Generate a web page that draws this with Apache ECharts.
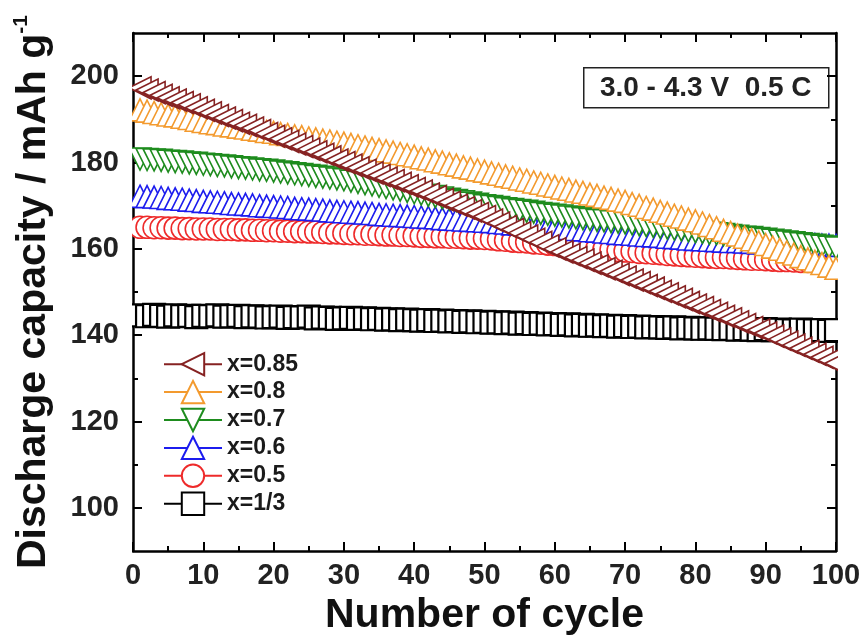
<!DOCTYPE html>
<html>
<head>
<meta charset="utf-8">
<script src="https://cdn.jsdelivr.net/npm/echarts@6/dist/echarts.min.js"></script>
<style>
  html, body { margin: 0; padding: 0; background: #fff; }
  #chart { width: 868px; height: 641px; }
</style>
</head>
<body>
<div id="chart"></div>
<script>
// cycle numbers
var cycles = [1,2,3,4,5,6,7,8,9,10,11,12,13,14,15,16,17,18,19,20,
  21,22,23,24,25,26,27,28,29,30,31,32,33,34,35,36,37,38,39,40,
  41,42,43,44,45,46,47,48,49,50,51,52,53,54,55,56,57,58,59,60,
  61,62,63,64,65,66,67,68,69,70,71,72,73,74,75,76,77,78,79,80,
  81,82,83,84,85,86,87,88,89,90,91,92,93,94,95,96,97,98,99,100];

// discharge capacity (mAh/g)
var cap085 = [197.3,196.8,196.2,195.6,195.0,194.5,193.9,193.4,192.7,192.1,
  191.5,190.9,190.3,189.7,189.1,188.6,188.0,187.4,186.7,186.1,
  185.5,184.9,184.3,183.7,183.1,182.5,181.9,181.3,180.6,180.0,
  179.4,178.8,178.2,177.6,177.0,176.4,175.8,175.2,174.6,174.0,
  173.4,172.7,172.1,171.4,170.8,170.1,169.5,168.8,168.2,167.5,
  166.7,166.0,165.2,164.5,163.7,163.0,162.2,161.5,160.7,160.0,
  159.3,158.7,158.0,157.4,156.7,156.1,155.4,154.8,154.1,153.5,
  152.8,152.2,151.5,150.9,150.2,149.6,148.9,148.3,147.6,147.0,
  146.4,145.7,145.1,144.4,143.8,143.1,142.5,141.8,141.2,140.5,
  139.8,139.1,138.4,137.7,137.0,136.3,135.6,134.9,134.2,133.5];
var cap08 = [192.2,191.9,191.6,191.3,191.0,190.8,190.5,190.2,189.8,189.5,
  189.2,189.0,188.7,188.5,188.2,188.0,187.7,187.5,187.2,187.0,
  186.7,186.5,186.2,186.0,185.7,185.5,185.2,185.0,184.7,184.5,
  184.2,183.9,183.6,183.3,183.0,182.7,182.4,182.1,181.8,181.5,
  181.1,180.8,180.4,180.1,179.7,179.4,179.0,178.7,178.3,178.0,
  177.6,177.3,176.9,176.6,176.2,175.9,175.5,175.2,174.8,174.5,
  174.1,173.8,173.4,173.1,172.7,172.4,172.0,171.7,171.3,171.0,
  170.5,170.1,169.6,169.2,168.7,168.3,167.8,167.4,166.9,166.5,
  166.0,165.4,164.9,164.3,163.8,163.2,162.7,162.1,161.6,161.0,
  160.4,159.9,159.3,158.8,158.2,157.7,157.1,156.6,156.0,155.5];
var cap07 = [180.8,180.7,180.6,180.5,180.3,180.2,180.1,179.9,179.8,179.6,
  179.5,179.3,179.2,179.0,178.8,178.7,178.5,178.3,178.2,178.0,
  177.8,177.6,177.4,177.2,177.0,176.8,176.6,176.4,176.2,176.0,
  175.7,175.4,175.1,174.8,174.5,174.2,173.9,173.6,173.3,173.0,
  172.7,172.4,172.1,171.8,171.5,171.2,170.9,170.6,170.3,170.0,
  169.8,169.6,169.3,169.1,168.9,168.7,168.5,168.2,168.0,167.8,
  167.6,167.4,167.2,167.0,166.8,166.6,166.5,166.3,166.2,166.0,
  165.8,165.6,165.4,165.2,165.0,164.8,164.6,164.4,164.2,164.0,
  163.8,163.6,163.5,163.3,163.1,162.9,162.7,162.6,162.4,162.2,
  162.0,161.8,161.6,161.4,161.2,161.0,160.8,160.6,160.4,160.2];
var cap06 = [172.2,172.1,172.0,171.9,171.7,171.6,171.5,171.3,171.2,171.0,
  170.9,170.8,170.7,170.5,170.4,170.3,170.2,170.0,169.9,169.8,
  169.7,169.6,169.4,169.3,169.2,169.1,169.0,168.8,168.7,168.6,
  168.5,168.4,168.3,168.2,168.0,167.9,167.8,167.7,167.6,167.5,
  167.4,167.3,167.2,167.0,166.9,166.8,166.7,166.6,166.5,166.4,
  166.3,166.1,166.0,165.8,165.7,165.6,165.4,165.3,165.1,165.0,
  164.8,164.7,164.5,164.4,164.2,164.1,163.9,163.8,163.6,163.5,
  163.4,163.2,163.1,163.0,162.9,162.7,162.6,162.5,162.3,162.2,
  162.1,162.0,161.9,161.8,161.7,161.7,161.6,161.5,161.4,161.3,
  161.3,161.2,161.2,161.1,161.1,161.0,161.0,160.9,160.9,160.8];
var cap05 = [165.0,165.0,164.9,164.9,164.8,164.8,164.7,164.7,164.6,164.6,
  164.6,164.5,164.5,164.5,164.4,164.4,164.3,164.3,164.2,164.2,
  164.1,164.1,164.0,164.0,163.9,163.9,163.8,163.7,163.7,163.6,
  163.5,163.5,163.4,163.4,163.3,163.2,163.2,163.1,163.1,163.0,
  162.9,162.9,162.8,162.8,162.7,162.7,162.6,162.5,162.5,162.4,
  162.3,162.1,162.0,161.8,161.7,161.6,161.4,161.3,161.1,161.0,
  160.8,160.7,160.5,160.4,160.2,160.1,159.9,159.8,159.6,159.5,
  159.4,159.2,159.1,159.0,158.9,158.7,158.6,158.5,158.4,158.3,
  158.2,158.1,158.0,158.0,157.9,157.8,157.7,157.6,157.6,157.5,
  157.4,157.3,157.3,157.2,157.1,157.1,157.0,156.9,156.9,156.8];
var cap033 = [144.6,144.4,144.7,144.5,144.3,144.6,144.4,144.5,144.2,144.5,
  144.4,144.6,144.3,144.4,144.5,144.2,144.4,144.3,144.1,144.2,
  144.3,144.0,144.2,144.1,144.3,143.9,144.1,144.0,143.8,143.9,
  144.0,143.8,143.9,143.7,143.8,143.6,143.7,143.5,143.6,143.5,
  143.4,143.5,143.3,143.4,143.2,143.3,143.1,143.2,143.0,143.1,
  142.9,143.0,142.8,142.9,142.7,142.8,142.6,142.7,142.5,142.6,
  142.4,142.5,142.3,142.4,142.2,142.3,142.1,142.2,142.0,142.1,
  141.9,142.0,141.8,141.9,141.8,141.7,141.8,141.6,141.7,141.6,
  141.5,141.6,141.5,141.4,141.5,141.3,141.4,141.3,141.2,141.4,
  141.2,141.3,141.2,141.1,141.3,141.2,141.1,141.2,141.0,141.2];

var yMajor = [100, 120, 140, 160, 180, 200];
var yMinor = [110, 130, 150, 170, 190];
var legendOrder = ['x=0.85', 'x=0.8', 'x=0.7', 'x=0.6', 'x=0.5', 'x=1/3'];

var font = 'Liberation Sans, Arial, Helvetica, sans-serif';

function pairs (vals) {
  return cycles.map(function (c, i) { return [c, vals[i]] })
}

function makeSeries (name, vals, color, symbol, rotate, size, border) {
  return {
    name: name,
    type: 'line',
    data: pairs(vals),
    symbol: symbol,
    symbolRotate: rotate,
    symbolSize: size,
    showAllSymbol: true,
    clip: true,
    color: color,
    lineStyle: { color: color, width: 1.5 },
    itemStyle: { color: '#fff', borderColor: color, borderWidth: border },
    emphasis: { disabled: true },
    animation: false
  }
}

var chart = echarts.init(document.getElementById('chart'), null, { renderer: 'canvas' })

var tickStyle = { color: '#000', width: 2 }
var frameLine = { show: true, onZero: false, lineStyle: { color: '#000', width: 2.5 } }

chart.setOption({
  backgroundColor: '#fff',
  animation: false,
  grid: { left: 133, right: 32, top: 33, bottom: 86 },
  legend: {
    data: legendOrder,
    orient: 'vertical',
    left: 158,
    top: 347,
    itemWidth: 58,
    itemHeight: 28,
    itemGap: 3.5,
    textStyle: { fontFamily: font, fontSize: 23, fontWeight: 'bold', color: '#1a1a1a' }
  },
  xAxis: [
    {
      type: 'value', min: 0, max: 100, interval: 10, position: 'bottom',
      name: 'Number of cycle', nameLocation: 'middle', nameGap: 42,
      nameTextStyle: { fontFamily: font, fontSize: 41, fontWeight: 'bold', color: '#111' },
      axisLine: frameLine,
      axisTick: { show: true, inside: true, length: 9, lineStyle: tickStyle },
      minorTick: { show: true, splitNumber: 2, length: 5, lineStyle: tickStyle },
      axisLabel: { fontFamily: font, fontSize: 29, fontWeight: 'bold', color: '#222', margin: 10 },
      splitLine: { show: false }
    },
    {
      type: 'value', position: 'top', min: 0, max: 100, interval: 10,
      axisLine: frameLine,
      axisTick: { show: true, inside: true, length: 9, lineStyle: tickStyle },
      minorTick: { show: true, splitNumber: 2, length: 5, lineStyle: tickStyle },
      axisLabel: { show: false },
      splitLine: { show: false }
    }
  ],
  yAxis: [
    {
      type: 'value', min: 90, max: 210, position: 'left',
      name: '{a|Discharge capacity / mAh g}{s|-1}',
      nameLocation: 'middle', nameGap: 76,
      nameTextStyle: {
        rich: {
          a: { fontFamily: font, fontSize: 41, fontWeight: 'bold', color: '#111', lineHeight: 46 },
          s: { fontFamily: font, fontSize: 21, fontWeight: 'bold', color: '#111', verticalAlign: 'top', lineHeight: 21, padding: [0, 0, 20, 0] }
        }
      },
      axisLine: frameLine,
      axisTick: { show: true, inside: true, length: 9, customValues: yMajor, lineStyle: tickStyle },
      axisLabel: { customValues: yMajor, fontFamily: font, fontSize: 29, fontWeight: 'bold', color: '#222', margin: 14 },
      splitLine: { show: false }
    },
    {
      type: 'value', min: 90, max: 210, position: 'right',
      axisLine: frameLine,
      axisTick: { show: true, inside: true, length: 9, customValues: yMajor, lineStyle: tickStyle },
      axisLabel: { show: false },
      splitLine: { show: false }
    },
    {
      type: 'value', min: 90, max: 210, position: 'left',
      axisLine: { show: false, onZero: false },
      axisTick: { show: true, inside: true, length: 5, customValues: yMinor, lineStyle: tickStyle },
      axisLabel: { show: false },
      splitLine: { show: false }
    },
    {
      type: 'value', min: 90, max: 210, position: 'right',
      axisLine: { show: false, onZero: false },
      axisTick: { show: true, inside: true, length: 5, customValues: yMinor, lineStyle: tickStyle },
      axisLabel: { show: false },
      splitLine: { show: false }
    }
  ],
  graphic: [
    // masks so markers stop at the frame, as in the plot
    { type: 'rect', z: 5, shape: { x: 838, y: 10, width: 30, height: 546 }, style: { fill: '#fff' } },
    { type: 'rect', z: 5, shape: { x: 122, y: 33, width: 10, height: 522 }, style: { fill: '#fff' } },
    {
      type: 'group', left: 583, top: 67, z: 6,
      children: [
        { type: 'rect', shape: { x: 0, y: 0, width: 245, height: 40 },
          style: { fill: '#fff', stroke: '#222', lineWidth: 1.5 } },
        { type: 'text', x: 122, y: 21,
          style: { text: '3.0 - 4.3 V  0.5 C', font: 'bold 28px ' + font, fill: '#222', align: 'center', verticalAlign: 'middle' } }
      ]
    }
  ],
  series: [
    makeSeries('x=1/3', cap033, '#000000', 'rect', 0, 22, 2.2),
    makeSeries('x=0.5', cap05, '#EE2A2A', 'circle', 0, 22, 1.6),
    makeSeries('x=0.6', cap06, '#1C1CEE', 'triangle', 0, 22, 1.6),
    makeSeries('x=0.7', cap07, '#1E8C1E', 'triangle', 180, 22, 1.6),
    makeSeries('x=0.8', cap08, '#F39A2E', 'triangle', 0, 22, 1.6),
    makeSeries('x=0.85', cap085, '#862222', 'triangle', 90, 22, 1.6)
  ]
})
</script>
</body>
</html>
